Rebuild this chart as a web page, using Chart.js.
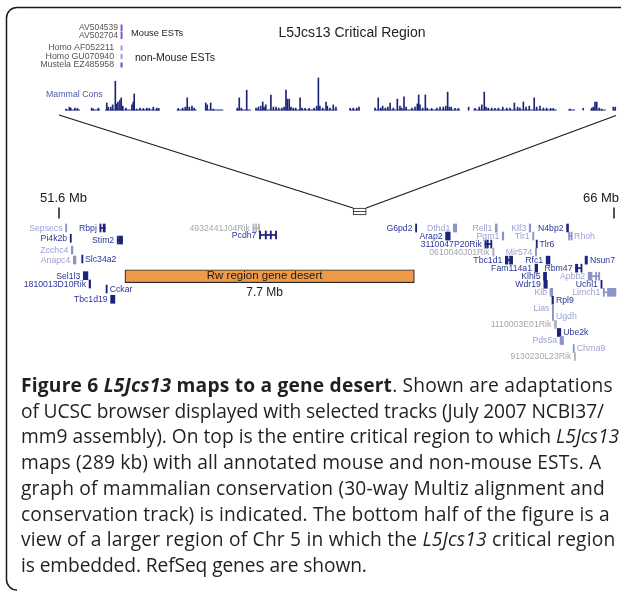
<!DOCTYPE html>
<html>
<head>
<meta charset="utf-8">
<script src="https://cdn.jsdelivr.net/npm/chart.js@4.4.1/dist/chart.umd.min.js"></script>
<style>
html,body{margin:0;padding:0;background:#fff;}
#wrap{position:relative;width:622px;height:591px;overflow:hidden;}
#wrap canvas{position:absolute;left:0;top:0;}
#caption{position:absolute;left:21px;top:372px;font-family:"Open Sans",sans-serif;font-size:19.2px;line-height:25.7px;color:#231f20;white-space:nowrap;}
#caption span{display:block;}
</style>
</head>
<body>
<div id="wrap">
<canvas id="consChart" width="622" height="591"></canvas>
<canvas id="geneChart" width="622" height="591"></canvas>
<div id="caption">
<span style="letter-spacing:0.2px"><b>Figure 6 <i>L5Jcs13</i> maps to a gene desert</b>. Shown are adaptations</span>
<span style="letter-spacing:-0.12px">of UCSC browser displayed with selected tracks (July 2007 NCBI37/</span>
<span>mm9 assembly). On top is the entire critical region to which <i>L5Jcs13</i></span>
<span style="letter-spacing:0.14px">maps (289 kb) with all annotated mouse and non-mouse ESTs. A</span>
<span style="letter-spacing:0.15px">graph of mammalian conservation (30-way Multiz alignment and</span>
<span style="letter-spacing:0.14px">conservation track) is indicated. The bottom half of the figure is a</span>
<span style="letter-spacing:0.2px">view of a larger region of Chr 5 in which the <i>L5Jcs13</i> critical region</span>
<span style="letter-spacing:-0.1px">is embedded. RefSeq genes are shown.</span>
</div>
</div>
<script>
//---- critical region : conservation (kb from start of region) ----
var regionKb = 289;
var consCoverage = [[0,7.9],[13.5,18.4],[21.0,49.8],[58.6,69.1],[73.4,83.0],[89.7,97.5],[99.7,142.8],[149.1,154.7],
	[162.1,207.2],[211.4,211.9],[214.2,257.9],[263.8,267.5],[271.7,272.2],[275.4,283.6],[287.3,289]];
//[kb, score]
var consPeaks = [[0.5,.03],[2.3,.09],[3.0,.06],[5.2,.06],[6.5,.05],
	[14.0,.06],[14.8,.03],[17.5,.06],
	[21.9,.22],[22.7,.09],[24.0,.09],[25.0,.16],[26.4,.9],[27.1,.19],[27.8,.25],[28.8,.31],[29.5,.38],[30.3,.12],[32.0,.06],
	[35.1,.16],[35.8,.25],[36.3,.5],[37.6,.03],[39.3,.06],[41.1,.05],[42.9,.06],[44.2,.05],[46.3,.09],[48.1,.06],[49.1,.05],
	[59.4,.05],[61.7,.06],[63.1,.09],[64.1,.38],[65.2,.09],[66.6,.12],[67.7,.06],
	[73.8,.22],[74.6,.16],[76.4,.22],[77.8,.03],
	[90.4,.06],[91.4,.38],[92.5,.06],[95.3,.62],
	[100.2,.06],[101.4,.09],[102.6,.12],[103.7,.25],[104.4,.09],[105.3,.16],
	[108.0,.47],[109.3,.09],[110.7,.09],[112.1,.06],[113.7,.06],[114.9,.09],[115.9,.62],[116.6,.34],[117.6,.34],[118.5,.09],
	[119.7,.06],[121.0,.06],[123.3,.38],[124.3,.06],[125.9,.05],[128.1,.05],[130.6,.06],[132.0,.12],[132.9,1.0],[133.7,.12],
	[135.2,.06],[136.9,.25],[137.6,.12],[139.0,.06],[140.7,.16],[142.1,.09],
	[149.5,.05],[151.2,.06],[153.0,.06],[154.2,.09],
	[162.6,.06],[164.3,.38],[165.6,.06],[166.6,.12],[168.0,.06],[169.3,.09],[170.5,.22],[172.2,.06],[174.3,.34],[175.7,.12],
	[176.6,.06],[177.8,.41],[178.9,.09],[182.0,.06],[183.6,.09],[184.8,.19],[185.5,.47],[186.2,.16],[187.6,.06],[189.0,.47],
	[190.0,.06],[192.3,.05],[195.0,.06],[196.7,.09],[198.4,.09],[199.7,.12],[200.7,.56],[201.6,.09],[202.6,.09],[204.6,.05],[206.3,.05],
	[211.7,.09],
	[215.0,.05],[217.3,.09],[218.6,.16],[219.9,.56],[220.8,.09],[222.0,.06],[223.8,.06],[225.5,.05],[227.3,.06],[229.6,.09],
	[231.7,.06],[233.4,.06],[235.7,.22],[237.4,.09],[238.6,.06],[240.4,.25],[241.8,.09],[243.5,.12],[246.1,.38],[247.4,.09],
	[249.1,.12],[250.9,.06],[252.6,.06],[254.7,.05],[256.1,.05],
	[264.9,.03],[271.8,.05],
	[276.3,.06],[277.1,.09],[278.0,.25],[278.9,.25],[280.2,.06],[281.5,.03],
	[287.6,.09],[288.6,.09]];

//ESTs in the critical region
var mouseEsts = ['AV504539','AV502704'];
var mouseEstKb = [29.4,29.4];
var otherEsts = ['Homo AF052211','Homo GU070940','Mustela EZ485958'];
var otherEstKb = [29.4,29.4,29.4];

//---- Chr 5 view (Mb) ----
var viewTicksMb = [51.6,66];
var viewTickLabels = ['51.6 Mb','66 Mb'];
var geneNames  = ['Sepsecs','Rbpj','Pi4k2b','Stim2','Zcchc4','Anapc4','Slc34a2','Sel1l3','1810013D10Rik','Cckar','Tbc1d19','4932441J04Rik','Pcdh7',
	'G6pd2','Dthd1','Rell1','Klf3','N4bp2','Rhoh','Arap2','Pgm1','Tlr1','3110047P20Rik','Tlr6','0610040J01Rik','Mir574',
	'Tbc1d1','Rfc1','Nsun7','Fam114a1','Rbm47','Klhl5','Apbb2','Wdr19','Uchl1','Klb','Limch1','Rpl9','Lias','Ugdh',
	'1110003E01Rik','Ube2k','Pds5a','Chrna9','9130230L23Rik'];
var geneStart  = [51.77,52.66,51.89,53.11,51.92,51.97,52.19,52.23,52.38,52.82,52.94,56.63,56.80,
	60.85,61.83,62.92,63.80,64.77,64.82,61.63,63.10,63.89,62.65,63.98,62.85,63.96,
	63.18,64.24,65.25,63.95,65.00,64.17,65.33,64.18,65.66,64.34,65.72,64.39,64.40,64.40,
	64.45,64.53,64.60,64.94,64.97];
var geneEnd    = [51.80,52.80,51.92,53.25,51.96,52.04,52.21,52.35,52.42,52.85,53.05,56.79,57.23,
	60.87,61.92,62.97,63.84,64.82,64.90,61.75,63.14,63.91,62.83,64.00,62.89,63.98,
	63.37,64.34,65.31,64.02,65.16,64.25,65.62,64.27,65.68,64.41,66.05,64.43,64.43,64.43,
	64.51,64.62,64.69,64.97,65.00];
var geneRow    = [0,0,1.28,1.5,2.74,3.98,3.86,5.93,6.97,7.59,8.87,0,0.87,
	0,0,0,0,0,1,1,1,1,2,2,3,3,
	4,4,4,5,5,6,6,7,7,8,8,9,10,11,
	12,13,14,15,16];
//R = reviewed, P = provisional, I = inferred
var geneStatus = ['P','R','R','R','P','P','R','R','R','R','R','I','R',
	'R','P','P','P','R','P','R','P','P','R','R','I','P',
	'R','R','R','R','R','R','P','R','R','P','P','R','P','P',
	'I','R','P','P','I'];
var geneExons = {
	'Rbpj':[[52.66,52.675],[52.745,52.80]],
	'Stim2':[[53.11,53.125],[53.16,53.25]],
	'4932441J04Rik':[[56.63,56.645],[56.70,56.71],[56.775,56.79]],
	'Pcdh7':[[56.80,56.815],[56.95,56.965],[57.08,57.095],[57.215,57.23]],
	'Rhoh':[[64.82,64.835],[64.885,64.90]],
	'3110047P20Rik':[[62.65,62.665],[62.70,62.74],[62.80,62.83]],
	'Tbc1d1':[[63.18,63.25],[63.29,63.37]],
	'Rbm47':[[65.00,65.06],[65.14,65.16]],
	'Apbb2':[[65.33,65.43],[65.52,65.54],[65.60,65.62]],
	'Limch1':[[65.72,65.74],[65.83,66.05]]
};
var labelRight = ['Slc34a2','Cckar','Rhoh','Tlr6','Nsun7','Rpl9','Ugdh','Ube2k','Chrna9'];
var desertMb = [53.31,60.82];
var desertRow = 6;
var desertLabel = 'Rw region gene desert';
var desertSize = '7.7 Mb';
var criticalMb = [59.23,59.57];
var criticalRow = -2.05;

var statusColor = {R:'#1a237e', P:'#8d93c9', I:'#b4b4bc'};
var statusText  = {R:'#2b3796', P:'#9ca1d0', I:'#a6a6b0'};
var consColor = '#1c2479';
var sans = '"Liberation Sans", Arial, sans-serif';

//value range so that v0 lands on pixel p0 and v1 on p1
function fitH(v0,p0,v1,p1,size){
	var k = (v1-v0)/(p1-p0);
	return {min:v0-p0*k, max:v0+(size-p0)*k};
}
function fitV(v0,p0,v1,p1,size){
	var k = (v1-v0)/(p0-p1);
	return {min:v0-(size-p0)*k, max:v0+p0*k};
}

var consChart, geneChart;

//frame, EST tracks, title
var topTrack = {
	id:'topTrack',
	beforeDraw:function(chart){
		var ctx = chart.ctx;
		ctx.save();
		ctx.strokeStyle = '#1a1a1a';
		ctx.lineWidth = 1.5;
		ctx.beginPath();
		ctx.moveTo(621,7.5);
		ctx.lineTo(17,7.5);
		ctx.arcTo(6.5,7.5,6.5,18,10.5);
		ctx.lineTo(6.5,579);
		ctx.arcTo(6.5,590,17,590,10.5);
		ctx.stroke();
		ctx.restore();
	},
	afterDatasetsDraw:function(chart){
		var ctx = chart.ctx, x = chart.scales.x;
		ctx.save();
		ctx.textBaseline = 'middle';
		//mouse ESTs
		ctx.font = '8.5px '+sans;
		for(var i=0;i<mouseEsts.length;i++){
			var py = 28+i*7.5, px = x.getPixelForValue(mouseEstKb[i]);
			ctx.fillStyle = '#555';
			ctx.textAlign = 'right';
			ctx.fillText(mouseEsts[i], px-3, py);
			ctx.fillStyle = '#8b4fd1';
			ctx.fillRect(px-0.5, py-3.5, 2, 7);
		}
		//non-mouse ESTs
		ctx.font = '8.8px '+sans;
		for(var j=0;j<otherEsts.length;j++){
			var qy = 48+j*8.5, qx = x.getPixelForValue(otherEstKb[j]);
			ctx.fillStyle = '#555';
			ctx.textAlign = 'right';
			ctx.fillText(otherEsts[j], qx-7, qy);
			ctx.fillStyle = j==2 ? '#7d3fc8' : '#b28ce2';
			ctx.fillRect(qx-0.5, qy-2.5, 2, 5);
		}
		ctx.fillStyle = '#222';
		ctx.textAlign = 'left';
		ctx.font = '9.3px '+sans;
		ctx.fillText('Mouse ESTs', 131, 33);
		ctx.font = '10.5px '+sans;
		ctx.fillText('non-Mouse ESTs', 135, 58.5);
		ctx.font = '14px '+sans;
		ctx.textAlign = 'center';
		ctx.fillText('L5Jcs13 Critical Region', 352, 33);
		ctx.font = '8.8px '+sans;
		ctx.textAlign = 'left';
		ctx.fillStyle = '#4b5aa9';
		ctx.fillText('Mammal Cons', 46, 95);
		ctx.restore();
	}
};

//zoom lines, Mb ticks, gene labels
var viewTrack = {
	id:'viewTrack',
	afterDatasetsDraw:function(chart){
		var ctx = chart.ctx, x = chart.scales.x, y = chart.scales.y;
		var cx = consChart.scales.x;
		ctx.save();
		//zoom lines from the critical region to its place on Chr 5
		var boxTop = y.getPixelForValue(criticalRow)-3.5;
		ctx.strokeStyle = '#1a1a1a';
		ctx.lineWidth = 1.2;
		ctx.beginPath();
		ctx.moveTo(cx.getPixelForValue(0)-6, 115);
		ctx.lineTo(x.getPixelForValue(criticalMb[0]), boxTop);
		ctx.moveTo(cx.getPixelForValue(regionKb), 115.5);
		ctx.lineTo(x.getPixelForValue(criticalMb[1]), boxTop);
		ctx.stroke();
		ctx.lineWidth = 0.8;
		ctx.beginPath();
		var cy = y.getPixelForValue(criticalRow);
		ctx.moveTo(x.getPixelForValue(criticalMb[0]), cy);
		ctx.lineTo(x.getPixelForValue(criticalMb[1]), cy);
		ctx.stroke();
		//Mb ticks
		var tickOff = [4.5,-13];
		ctx.fillStyle = '#1a1a1a';
		ctx.font = '13px '+sans;
		ctx.textAlign = 'center';
		ctx.textBaseline = 'middle';
		for(var t=0;t<viewTicksMb.length;t++){
			var tx = x.getPixelForValue(viewTicksMb[t]);
			ctx.fillRect(Math.round(tx)-0.75, 207.5, 1.5, 11);
			ctx.fillText(viewTickLabels[t], tx+tickOff[t], 198.5);
		}
		//gene desert texts
		var dx = (x.getPixelForValue(desertMb[0])+x.getPixelForValue(desertMb[1]))/2 - 5;
		var dy = y.getPixelForValue(desertRow);
		ctx.font = '11.5px '+sans;
		ctx.fillText(desertLabel, dx, dy);
		ctx.font = '12px '+sans;
		ctx.fillText(desertSize, dx, dy+16.5);
		//gene names
		ctx.font = '8.7px '+sans;
		for(var i=0;i<geneNames.length;i++){
			var py = y.getPixelForValue(geneRow[i])+0.5;
			ctx.fillStyle = statusText[geneStatus[i]];
			if(labelRight.indexOf(geneNames[i])>=0){
				ctx.textAlign = 'left';
				ctx.fillText(geneNames[i], x.getPixelForValue(geneEnd[i])+2.5, py);
			}else{
				ctx.textAlign = 'right';
				ctx.fillText(geneNames[i], x.getPixelForValue(geneStart[i])-3, py);
			}
		}
		ctx.restore();
	}
};

function drawConservation(){
	var coverage = [];
	for(var i=0;i<consCoverage.length;i++){
		coverage.push({x:consCoverage[i][0], y:0});
		coverage.push({x:consCoverage[i][1], y:0});
		coverage.push({x:consCoverage[i][1]+0.05, y:null});
	}
	var peaks = consPeaks.map(function(p){ return {x:p[0], y:p[1]}; });
	var xr = fitH(0,65,regionKb,616,622);
	var yr = fitV(0,110,1,78,591);
	consChart = new Chart(document.getElementById('consChart'),{
		type:'bar',
		data:{
			datasets:[
				{type:'line', data:coverage, borderColor:consColor, borderWidth:1, pointRadius:0, spanGaps:false},
				{type:'bar', data:peaks, backgroundColor:consColor, barThickness:1, grouped:false}
			]
		},
		options:{
			responsive:false,
			animation:false,
			events:[],
			layout:{padding:0},
			scales:{
				x:{type:'linear', min:xr.min, max:xr.max, display:false, offset:false},
				y:{type:'linear', min:yr.min, max:yr.max, display:false}
			},
			plugins:{legend:{display:false}, tooltip:{enabled:false}}
		},
		plugins:[topTrack]
	});
}

function drawGenes(){
	var bodies = [], bodyColors = [], exons = [], exonColors = [];
	for(var i=0;i<geneNames.length;i++){
		var ex = geneExons[geneNames[i]];
		if(ex){
			bodies.push({x:[geneStart[i],geneEnd[i]], y:geneRow[i]});
			bodyColors.push(statusColor[geneStatus[i]]);
		}else{
			ex = [[geneStart[i],geneEnd[i]]];
		}
		for(var e=0;e<ex.length;e++){
			exons.push({x:ex[e], y:geneRow[i]});
			exonColors.push(statusColor[geneStatus[i]]);
		}
	}
	var xr = fitH(viewTicksMb[0],59,viewTicksMb[1],614,622);
	var yr = fitH(0,228,16,356.6,591);
	geneChart = new Chart(document.getElementById('geneChart'),{
		type:'bar',
		data:{
			datasets:[
				{data:bodies, backgroundColor:bodyColors, barThickness:1},
				{data:exons, backgroundColor:exonColors, barThickness:8, minBarLength:1.2},
				{data:[{x:desertMb, y:desertRow}], backgroundColor:'#ee9a49', borderColor:'#2a2a2a', borderWidth:1.2, borderSkipped:false, barThickness:13},
				{data:[{x:criticalMb, y:criticalRow}], backgroundColor:'#ffffff', borderColor:'#1a1a1a', borderWidth:1, borderSkipped:false, barThickness:7}
			]
		},
		options:{
			indexAxis:'y',
			responsive:false,
			animation:false,
			events:[],
			layout:{padding:0},
			datasets:{bar:{grouped:false}},
			scales:{
				x:{type:'linear', min:xr.min, max:xr.max, display:false, offset:false},
				y:{type:'linear', reverse:true, min:yr.min, max:yr.max, display:false, offset:false}
			},
			plugins:{legend:{display:false}, tooltip:{enabled:false}}
		},
		plugins:[viewTrack]
	});
}

drawConservation();
drawGenes();
</script>
</body>
</html>
